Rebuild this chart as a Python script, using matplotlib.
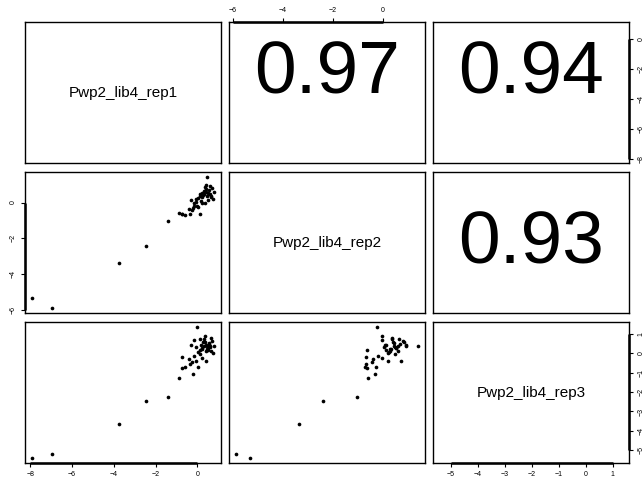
#!/usr/bin/env python3
import matplotlib
matplotlib.use("Agg")
import matplotlib.pyplot as plt
import numpy as np

plt.rcParams['font.family'] = ['Liberation Sans', 'DejaVu Sans']

names = ["Pwp2_lib4_rep1", "Pwp2_lib4_rep2", "Pwp2_lib4_rep3"]
cor_labels = {(0, 1): "0.97", (0, 2): "0.94", (1, 2): "0.93"}

# replicate values
rep1 = [-7.90, -6.97, -3.73, -2.46, -1.41,
        0.00, 0.45, 0.62, 0.78, 0.75, -0.90, -0.76, -0.72, -0.58, -0.38,
        -0.30, -0.21, -0.16, 0.11, 0.34, 0.66, 0.43, 0.02, -0.25, -0.09,
        0.24, -0.35, 0.10, 0.50, 0.30, 0.20, 0.55, 0.40, 0.35, 0.60,
        0.15, 0.25, 0.45, 0.70, 0.05, 0.50, -0.05, 0.30, 0.55, 0.20,
        0.65, 0.40, -0.15, 0.10]
rep2 = [-5.32, -5.87, -3.35, -2.41, -1.04,
        -0.21, 1.41, 0.94, 0.61, 0.20, -0.57, -0.62, -0.65, -0.72, -0.37,
        0.15, -0.29, -0.01, 0.39, -0.01, 0.39, 0.73, -0.25, -0.41, 0.21,
        -0.01, -0.65, -0.63, 0.55, 0.45, 0.30, 0.70, 0.60, 0.85, 0.50,
        0.10, 0.40, 0.35, 0.80, 0.25, 0.15, 0.05, 0.65, 0.45, 0.55,
        0.30, 0.95, -0.20, 0.50]
rep3 = [-5.38, -5.20, -3.66, -2.45, -2.24,
        1.33, 0.34, 0.39, 0.39, -0.02, -1.30, -0.79, -0.19, -0.70, -0.32,
        0.41, -1.06, 0.65, 0.70, 0.86, 0.80, -0.41, -0.72, -0.45, -0.41,
        -0.27, -0.56, 0.15, 0.25, 0.35, 0.20, 0.45, 0.10, 0.55, 0.30,
        0.40, 0.55, 0.20, 0.60, 0.05, 0.15, 0.30, 0.75, 0.50, 0.25,
        0.10, 0.40, -0.15, -0.05]

tick_sets = [[-8, -6, -4, -2, 0], [-6, -4, -2, 0], [-5, -4, -3, -2, -1, 0, 1]]

data = [np.array(rep1), np.array(rep2), np.array(rep3)]


def lims(v):
    lo, hi = v.min(), v.max()
    d = (hi - lo) * 0.04
    return lo - d, hi + d


W, H = 643, 486
fig = plt.figure(figsize=(W / 100, H / 100), dpi=100)
lefts = [25, 229, 433]
tops = [22, 172, 322]
pw, ph = 196, 141


def add_axis(ax, side, ticks):
    kw = dict(length=3, width=0.8, labelsize=5, pad=3, colors="black")
    if side in ("bottom", "top"):
        ax.set_xticks(ticks)
        ax.set_xticklabels([str(t).replace("-", "\u2212") for t in ticks])
        ax.tick_params(axis="x", bottom=(side == "bottom"), labelbottom=(side == "bottom"),
                       top=(side == "top"), labeltop=(side == "top"), **kw)
        y0 = 0 if side == "bottom" else 1
        ax.plot([ticks[0], ticks[-1]], [y0, y0], color="black", lw=1.8,
                transform=ax.get_xaxis_transform(), clip_on=False, solid_capstyle="butt")
    else:
        ax.set_yticks(ticks)
        ax.set_yticklabels([str(t).replace("-", "\u2212") for t in ticks],
                           rotation=90, va="center")
        ax.tick_params(axis="y", left=(side == "left"), labelleft=(side == "left"),
                       right=(side == "right"), labelright=(side == "right"), **kw)
        x0 = 0 if side == "left" else 1
        ax.plot([x0, x0], [ticks[0], ticks[-1]], color="black", lw=1.8,
                transform=ax.get_yaxis_transform(), clip_on=False, solid_capstyle="butt")


for i in range(3):
    for j in range(3):
        ax = fig.add_axes([lefts[j] / W, 1 - (tops[i] + ph) / H, pw / W, ph / H])
        ax.set_xlim(*lims(data[j]))
        ax.set_ylim(*lims(data[i]))
        ax.set_xticks([])
        ax.set_yticks([])
        for s in ax.spines.values():
            s.set_linewidth(1.0)
        if i == j:
            ax.text(0.5, 0.5, names[i], transform=ax.transAxes,
                    ha="center", va="center", fontsize=11)
        elif i > j:
            ax.scatter(data[j], data[i], s=7, color="black", linewidths=0)
        else:
            yc = 0.63 if i == 0 else 0.49
            ax.text(0.5, yc, cor_labels[(i, j)], transform=ax.transAxes,
                    ha="center", va="center", fontsize=54)
        if i == 2 and j in (0, 2):
            add_axis(ax, "bottom", tick_sets[j])
        if i == 0 and j == 1:
            add_axis(ax, "top", tick_sets[j])
        if j == 2 and i in (0, 2):
            add_axis(ax, "right", tick_sets[i])
        if j == 0 and i == 1:
            add_axis(ax, "left", tick_sets[i])

fig.savefig("out.png", dpi=100)
